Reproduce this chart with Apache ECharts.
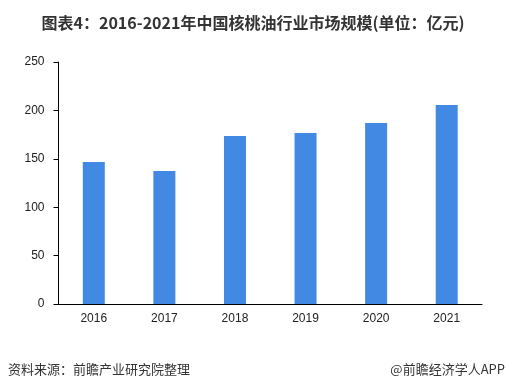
<!DOCTYPE html>
<html><head><meta charset="utf-8">
<script src="https://cdn.jsdelivr.net/npm/echarts@6/dist/echarts.min.js"></script>
<style>html,body{margin:0;padding:0;background:#fff}#c{width:506px;height:392px}</style>
</head><body><div id="c"></div>
<script>
var categories = ['2016','2017','2018','2019','2020','2021'];
var values = [146.7, 137.4, 173.6, 176.6, 187.0, 205.6];
var yTicks = [0, 50, 100, 150, 200, 250];
var titleText = '图表4：2016-2021年中国核桃油行业市场规模(单位：亿元)';
var sourceText = '资料来源：前瞻产业研究院整理';
var brandText = '@前瞻经济学人APP';

var chart = echarts.init(document.getElementById('c'), null, {renderer:'canvas'});
chart.setOption({
  animation: false,
  backgroundColor: '#fff',
  title: {
    text: titleText, left: 'center', top: 10,
    textStyle: {fontFamily: '"Noto Sans CJK SC", sans-serif', fontSize: 16, fontWeight: 'bold', color: '#333'}
  },
  graphic: [
    {type:'text', left: 8, top: 363, style:{text: sourceText, fontFamily:'"Noto Sans CJK SC", sans-serif', fontSize: 13, fill:'#333'}},
    {type:'text', right: 1, top: 363, style:{text: brandText, fontFamily:'"Noto Sans CJK SC", sans-serif', fontSize: 13, fill:'#333'}}
  ],
  grid: {left: 58.5, right: 24, top: 62, bottom: 88, containLabel: false},
  xAxis: {
    type: 'category', data: categories,
    axisLine: {lineStyle: {color: '#000', width: 1}},
    axisTick: {show: false},
    axisLabel: {color: '#222', fontSize: 12, fontFamily: '"Liberation Sans", Arial, sans-serif', margin: 9}
  },
  yAxis: {
    type: 'value', min: yTicks[0], max: yTicks[yTicks.length-1], interval: 50,
    axisLine: {show: true, lineStyle: {color: '#000', width: 1}},
    axisTick: {show: true, length: 5, lineStyle: {color: '#000'}},
    splitLine: {show: false},
    axisLabel: {color: '#222', fontSize: 12, fontFamily: '"Liberation Sans", Arial, sans-serif', margin: 14}
  },
  series: [{
    type: 'bar', data: values, barWidth: 22,
    itemStyle: {color: '#4289E3'}
  }]
});
</script></body></html>
